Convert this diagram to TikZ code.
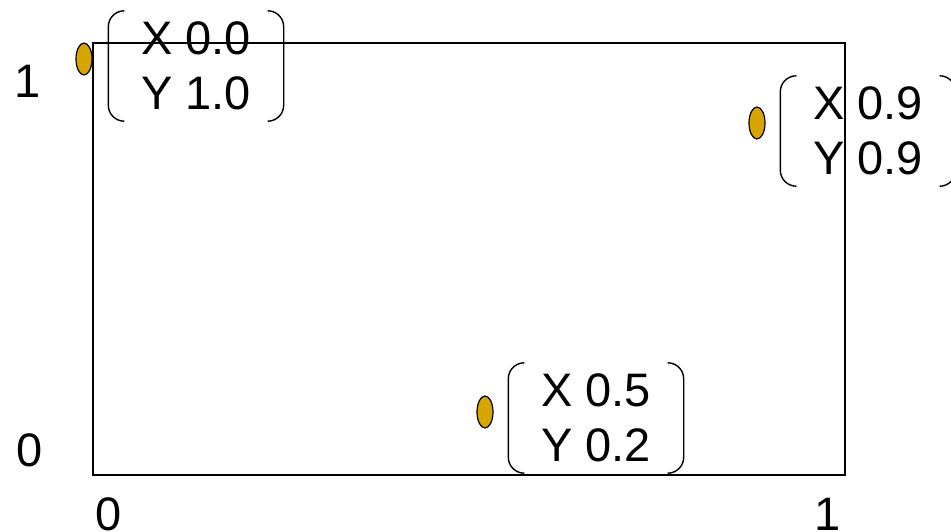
\documentclass[tikz,border=0pt]{standalone}
\usepackage{fontspec}
\setmainfont{Liberation Sans}
\usetikzlibrary{shapes.geometric}
\definecolor{markgold}{RGB}{214,165,0}
\tikzset{
  every node/.style={font=\fontsize{47}{55}\selectfont, inner sep=0pt},
  marker/.style={ellipse, draw=black, line width=1.2pt, fill=markgold,
    minimum width=16pt, minimum height=32pt},
  coordbox/.style={align=center, minimum width=175pt, minimum height=110pt},
  brk/.style={line width=1.4pt, rounded corners=16pt},
  frame/.style={line width=1.4pt},
}
% a pair of matrix-style brackets around a node
\newcommand\bracketpair[1]{%
  \draw[brk] ([xshift=16pt]#1.north west) -- (#1.north west)
    -- (#1.south west) -- ([xshift=16pt]#1.south west);
  \draw[brk] ([xshift=-16pt]#1.north east) -- (#1.north east)
    -- (#1.south east) -- ([xshift=-16pt]#1.south east);
}
\begin{document}
\begin{tikzpicture}[x=1pt, y=-1pt]
  \useasboundingbox (0,0) rectangle (951,532);
  % axis labels
  \node (y1) at (28,81) {1};
  \node (y0) at (30,450) {0};
  \node (x0) at (109,514) {0};
  \node (x1) at (828,514) {1};
  % points and their coordinates
  \node[marker] (p1) at (84,59) {};
  \node[coordbox] (c1) at (196,66) {X 0.0\\Y 1.0};
  \node[marker] (p2) at (757,123) {};
  \node[coordbox] (c2) at (868,131) {X 0.9\\Y 0.9};
  \node[marker] (p3) at (485,412) {};
  \node[coordbox] (c3) at (596,418) {X 0.5\\Y 0.2};
  \bracketpair{c1}
  \bracketpair{c2}
  \bracketpair{c3}
  % unit frame
  \coordinate (ul) at (93,43);
  \coordinate (lr) at (845,475);
  \draw[frame] (ul) rectangle (lr);
\end{tikzpicture}
\end{document}
